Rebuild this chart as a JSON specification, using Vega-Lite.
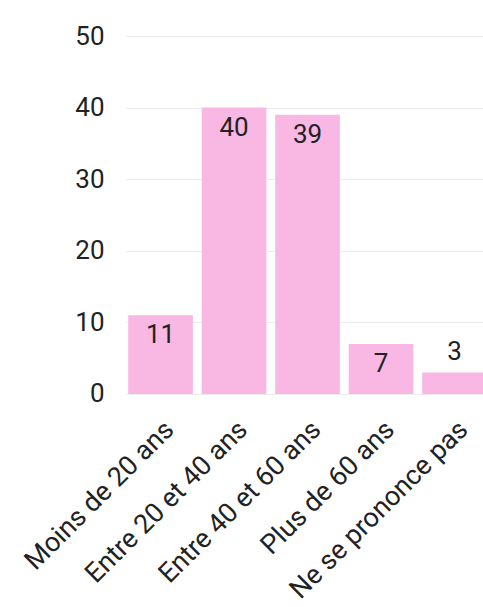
{
  "$schema": "https://vega.github.io/schema/vega-lite/v6.json",
  "padding": {"left": 19, "top": 23, "right": 5, "bottom": 5},
  "width": {"step": 73.5},
  "height": 358,
  "config": {
    "view": {"stroke": null},
    "font": "Roboto",
    "axis": {"labelFont": "Roboto", "labelColor": "#222222"}
  },
  "data": {
    "values": [
      {"categorie": "Moins de 20 ans", "valeur": 11},
      {"categorie": "Entre 20 et 40 ans", "valeur": 40},
      {"categorie": "Entre 40 et 60 ans", "valeur": 39},
      {"categorie": "Plus de 60 ans", "valeur": 7},
      {"categorie": "Ne se prononce pas", "valeur": 3}
    ]
  },
  "encoding": {
    "x": {
      "field": "categorie",
      "type": "nominal",
      "sort": null,
      "scale": {"paddingInner": 0.12, "paddingOuter": 0.03},
      "axis": {
        "title": null,
        "labelAngle": -45,
        "labelFontSize": 27,
        "labelPadding": 22,
        "labelLimit": 400,
        "ticks": false,
        "domain": false,
        "grid": false
      }
    },
    "y": {
      "field": "valeur",
      "type": "quantitative",
      "scale": {"domain": [0, 50]},
      "axis": {
        "title": null,
        "values": [0, 10, 20, 30, 40, 50],
        "labelFontSize": 26,
        "labelPadding": 22,
        "ticks": false,
        "domain": false,
        "gridColor": "#ececec",
        "gridWidth": 1
      }
    }
  },
  "layer": [
    {"mark": {"type": "bar", "color": "#f9b8e3"}},
    {
      "transform": [{"filter": "datum.valeur >= 5"}],
      "mark": {"type": "text", "baseline": "middle", "dy": 20, "fontSize": 26, "color": "#222222"},
      "encoding": {"text": {"field": "valeur", "type": "quantitative"}}
    },
    {
      "transform": [{"filter": "datum.valeur < 5"}],
      "mark": {"type": "text", "baseline": "middle", "dy": -21, "fontSize": 26, "color": "#222222"},
      "encoding": {"text": {"field": "valeur", "type": "quantitative"}}
    }
  ]
}
